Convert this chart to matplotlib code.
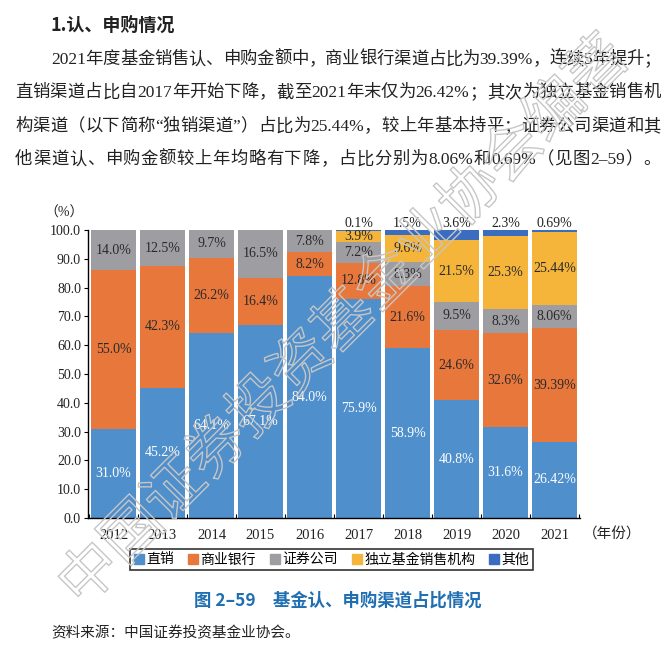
import re
import matplotlib
matplotlib.use("Agg")
import matplotlib.pyplot as plt
import matplotlib.patheffects as pe
from matplotlib.lines import Line2D

# data (share of subscription amount by channel, %)
years = ["2012", "2013", "2014", "2015", "2016", "2017", "2018", "2019", "2020", "2021"]
direct = [31.0, 45.2, 64.1, 67.1, 84.0, 75.9, 58.9, 40.8, 31.6, 26.42]
bank = [55.0, 42.3, 26.2, 16.4, 8.2, 12.8, 21.6, 24.6, 32.6, 39.39]
broker = [14.0, 12.5, 9.7, 16.5, 7.8, 7.2, 8.3, 9.5, 8.3, 8.06]
independent = [0, 0, 0, 0, 0, 3.9, 9.6, 21.5, 25.3, 25.44]
other = [0, 0, 0, 0, 0, 0.1, 1.5, 3.6, 2.3, 0.69]
series_names = ["直销", "商业银行", "证券公司", "独立基金销售机构", "其他"]
colors = ["#4F8FCC", "#E8773C", "#9E9EA2", "#F4B53A", "#3A6CBF"]

heading = "1.认、申购情况"
para_lines = [
    "2021年度基金销售认、申购金额中，商业银行渠道占比为39.39%，连续5年提升；",
    "直销渠道占比自2017年开始下降，截至2021年末仅为26.42%；其次为独立基金销售机",
    "构渠道（以下简称“独销渠道”）占比为25.44%，较上年基本持平；证券公司渠道和其",
    "他渠道认、申购金额较上年均略有下降，占比分别为8.06%和0.69%（见图2–59）。",
]
caption = "图 2–59　基金认、申购渠道占比情况"
source = "资料来源：中国证券投资基金业协会。"
watermark = "中国证券投资基金业协会编著"

SERIF = ["Liberation Serif", "Noto Sans CJK SC"]
SANS = ["Noto Sans CJK SC", "DejaVu Sans"]
plt.rcParams["font.family"] = SERIF

W, H = 671, 650
fig = plt.figure(figsize=(W / 100, H / 100), dpi=100)


def fx(px):
    return px / W


def fy(py):
    return 1 - py / H


def draw_justified(text, x0, x1, y, **kw):
    """Place a line of text so that it fills x0..x1 (pixels), like a justified book line."""
    tokens = re.findall(r"[0-9A-Za-z.%–\-]+|\S", text)
    r = fig.canvas.get_renderer()
    items = [fig.text(0, fy(y), t, va="center", ha="left", **kw) for t in tokens]
    widths = [t.get_window_extent(r).width for t in items]
    gap = (x1 - x0 - sum(widths)) / max(len(items) - 1, 1)
    x = x0
    for t, w in zip(items, widths):
        t.set_x(fx(x))
        x += w + gap


# text above the chart
fig.text(fx(51), fy(25), heading, family=SANS, fontsize=13, fontweight="bold",
         va="center", ha="left", color="#222222")
para_x0 = [51, 15, 15, 15]
para_y = [60, 93, 127, 160]
for line, x0, y in zip(para_lines, para_x0, para_y):
    draw_justified(line, x0, 661, y, family=SERIF, fontsize=12.5, color="#222222")

# chart
ax = fig.add_axes([fx(88), fy(518), (580 - 88) / W, (518 - 230) / H])
series = [direct, bank, broker, independent, other]
x = list(range(len(years)))
bottoms = [0.0] * len(years)
for name, vals, c in zip(series_names, series, colors):
    ax.bar(x, vals, width=0.92, bottom=bottoms, color=c, label=name, zorder=2)
    for i, v in enumerate(vals):
        if v <= 0:
            continue
        lab = f"{v:.2f}%" if years[i] == "2021" else f"{v:.1f}%"
        if name == "其他":
            ax.text(i, 102.2, lab, ha="center", va="center", fontsize=10, color="#222222")
        else:
            tc = "white" if name == "直销" else "#2a2a2a"
            ax.text(i, bottoms[i] + v / 2, lab, ha="center", va="center", fontsize=10, color=tc, zorder=3)
    bottoms = [b + v for b, v in zip(bottoms, vals)]

ax.set_xlim(-0.52, 9.52)
ax.set_ylim(0, 100)
ax.set_yticks(range(0, 101, 10))
ax.set_yticklabels([f"{v:.1f}" for v in range(0, 101, 10)], fontsize=10, color="#222222")
ax.set_xticks(x)
ax.set_xticklabels(years, fontsize=10.5, color="#222222")
ax.set_xticks([i + 0.5 for i in range(-1, 10)], minor=True)
ax.tick_params(axis="x", which="major", length=0, pad=8)
ax.tick_params(axis="x", which="minor", direction="in", length=3, width=0.8)
ax.tick_params(axis="y", direction="out", length=3, width=0.8, pad=2)
for s in ["top", "right"]:
    ax.spines[s].set_visible(False)
for s in ["left", "bottom"]:
    ax.spines[s].set_linewidth(1.0)
    ax.spines[s].set_color("black")

fig.text(fx(64), fy(213), "（%）", fontsize=10, ha="center", va="center", color="#222222")
fig.text(fx(583), fy(535), "（年份）", fontsize=10.5, ha="left", va="center", color="#222222")

# legend
handles = [Line2D([], [], marker="s", linestyle="none", markersize=6.5,
                  markerfacecolor=c, markeredgecolor=c) for c in colors]
leg = fig.legend(handles, series_names, loc="center", ncol=5,
                 bbox_to_anchor=(fx(331.5), fy(559.5)),
                 prop={"family": SANS, "size": 10}, frameon=True, fancybox=False,
                 handlelength=0.7, handletextpad=0.2, columnspacing=1.0,
                 borderpad=0.25)
leg.get_frame().set_edgecolor("black")
leg.get_frame().set_linewidth(1.2)

# caption and source
fig.text(fx(338), fy(601), caption, family=SANS, fontsize=12.5, fontweight="bold",
         color="#1F6FB2", ha="center", va="center")
fig.text(fx(51), fy(633), source, family=SANS, fontsize=10.5, color="#222222",
         ha="left", va="center")

# hollow diagonal watermark
fig.text(fx(345), fy(322), watermark, family=SANS, fontsize=43, rotation=45,
         rotation_mode="anchor", ha="center", va="center", color="none",
         path_effects=[pe.withStroke(linewidth=1.0, foreground="#C6C6C6")], zorder=10)

fig.savefig("out.png", dpi=100)
